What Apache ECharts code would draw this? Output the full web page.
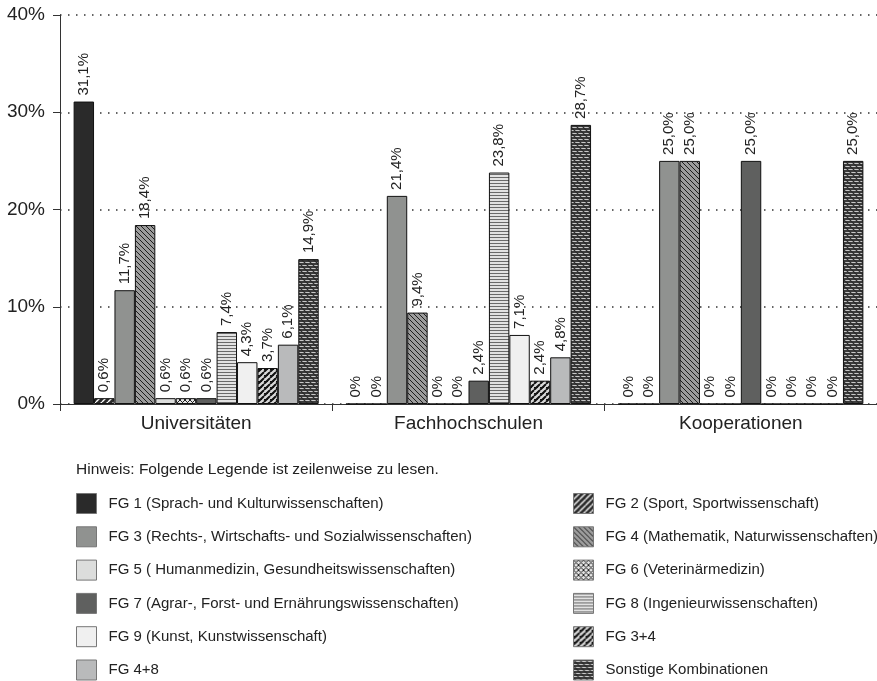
<!DOCTYPE html>
<html>
<head>
<meta charset="utf-8">
<script src="https://cdn.jsdelivr.net/npm/echarts@6/dist/echarts.min.js"></script>
<style>
  html, body { margin: 0; padding: 0; background: #fff; }
  #chart { width: 877px; height: 681px; }
</style>
</head>
<body>
<div id="chart"></div>
<script>
// Kategorien (x-Achse)
var categories = ["Universitäten", "Fachhochschulen", "Kooperationen"];
// Y-Achse
var yTicks = [0, 10, 20, 30, 40];

// Werte je Fächergruppe (%), Reihenfolge wie categories
var fg1 = [31.1, 0, 0];
var fg2 = [0.6, 0, 0];
var fg3 = [11.7, 21.4, 25.0];
var fg4 = [18.4, 9.4, 25.0];
var fg5 = [0.6, 0, 0];
var fg6 = [0.6, 0, 0];
var fg7 = [0.6, 2.4, 25.0];
var fg8 = [7.4, 23.8, 0];
var fg9 = [4.3, 7.1, 0];
var fg34 = [3.7, 2.4, 0];
var fg48 = [6.1, 4.8, 0];
var sonstige = [14.9, 28.7, 25.0];

var names = [
  "FG 1 (Sprach- und Kulturwissenschaften)",
  "FG 2 (Sport, Sportwissenschaft)",
  "FG 3 (Rechts-, Wirtschafts- und Sozialwissenschaften)",
  "FG 4 (Mathematik, Naturwissenschaften)",
  "FG 5 ( Humanmedizin, Gesundheitswissenschaften)",
  "FG 6 (Veterinärmedizin)",
  "FG 7 (Agrar-, Forst- und Ernährungswissenschaften)",
  "FG 8 (Ingenieurwissenschaften)",
  "FG 9 (Kunst, Kunstwissenschaft)",
  "FG 3+4",
  "FG 4+8",
  "Sonstige Kombinationen"
];
var values = [fg1, fg2, fg3, fg4, fg5, fg6, fg7, fg8, fg9, fg34, fg48, sonstige];

// Muster fuer schraffierte Balken
function pat(size, bg, draw) {
  var c = document.createElement("canvas");
  c.width = size;
  c.height = size;
  var ctx = c.getContext("2d");
  ctx.fillStyle = bg;
  ctx.fillRect(0, 0, size, size);
  draw(ctx, size);
  return { image: c, repeat: "repeat" };
}
function fwd(ctx, s, col, w) {
  ctx.strokeStyle = col; ctx.lineWidth = w; ctx.beginPath();
  [-s, 0, s].forEach(function (k) { ctx.moveTo(k, s); ctx.lineTo(k + s, 0); });
  ctx.stroke();
}
function back(ctx, s, col, w) {
  ctx.strokeStyle = col; ctx.lineWidth = w; ctx.beginPath();
  [-s, 0, s].forEach(function (k) { ctx.moveTo(k, 0); ctx.lineTo(k + s, s); });
  ctx.stroke();
}

var fills = [
  "#2a2a2a",
  pat(6, "#2a2a2a", function (ctx, s) { fwd(ctx, s, "#ffffff", 1.4); }),
  "#909290",
  pat(5, "#9c9c9c", function (ctx, s) { back(ctx, s, "#1e1e1e", 1); }),
  "#dcdddc",
  pat(5, "#e4e4e4", function (ctx, s) { fwd(ctx, s, "#222", 1); back(ctx, s, "#222", 1); }),
  "#5f605f",
  pat(3, "#e2e2e2", function (ctx, s) { ctx.fillStyle = "#6a6a6a"; ctx.fillRect(0, 0, s, 1); }),
  "#f0f0f0",
  pat(6, "#d8d8d8", function (ctx, s) {
    fwd(ctx, s, "#111", 2);
    ctx.fillStyle = "#111"; ctx.fillRect(0, 3, 4, 1);
  }),
  "#b9babb",
  pat(6, "#3c3c3c", function (ctx, s) {
    ctx.fillStyle = "#c8c8c8"; ctx.fillRect(0, 1, s, 1); ctx.fillRect(0, 4, s, 1);
    back(ctx, s, "#2a2a2a", 1.2);
  })
];

function fmt(p) {
  var v = p.value;
  if (v === 0) return "0%";
  return v.toFixed(1).replace(".", ",") + "%";
}

var series = names.map(function (n, i) {
  return {
    name: n,
    type: "bar",
    data: values[i],
    barGap: "0%",
    barCategoryGap: "10%",
    itemStyle: { color: fills[i], borderColor: "#111", borderWidth: 1 },
    label: {
      show: true,
      position: "top",
      rotate: 90,
      align: "left",
      verticalAlign: "middle",
      distance: 6,
      fontFamily: "Liberation Sans",
      fontSize: 15,
      color: "#222",
      formatter: fmt
    }
  };
});

// Legende zeilenweise: linke Spalte gerade Indizes, rechte Spalte ungerade
var legends = names.map(function (n, i) {
  return {
    data: [{ name: n, itemStyle: { borderColor: "#777", borderWidth: 1 } }],
    left: i % 2 === 0 ? 76 : 573,
    top: 493 + Math.floor(i / 2) * 33.3,
    itemWidth: 20,
    itemHeight: 20,
    icon: "rect",
    padding: 0,
    selectedMode: false,
    textStyle: { fontFamily: "Liberation Sans", fontSize: 15, color: "#222", padding: [0, 0, 0, 7] }
  };
});

var chart = echarts.init(document.getElementById("chart"));
chart.setOption({
  animation: false,
  textStyle: { fontFamily: "Liberation Sans" },
  title: {
    text: "Hinweis: Folgende Legende ist zeilenweise zu lesen.",
    left: 71,
    top: 457,
    textStyle: { fontFamily: "Liberation Sans", fontSize: 15.5, fontWeight: "normal", color: "#222" }
  },
  legend: legends,
  grid: { left: 60, top: 15, right: -3, height: 389, containLabel: false },
  xAxis: {
    type: "category",
    data: categories,
    axisLine: { lineStyle: { color: "#333", width: 1 } },
    axisTick: { show: true, length: 7, lineStyle: { color: "#333" } },
    axisLabel: { fontSize: 19, color: "#222", margin: 10 }
  },
  yAxis: {
    type: "value",
    min: yTicks[0],
    max: yTicks[yTicks.length - 1],
    interval: 10,
    axisLine: { show: true, lineStyle: { color: "#333", width: 1 } },
    axisTick: { show: true, length: 7, lineStyle: { color: "#333" } },
    axisLabel: { fontSize: 19, color: "#222", margin: 15, formatter: "{value}%" },
    splitLine: { lineStyle: { color: "#333", type: [1.5, 6.5], width: 1.5 } }
  },
  series: series
});
</script>
</body>
</html>
